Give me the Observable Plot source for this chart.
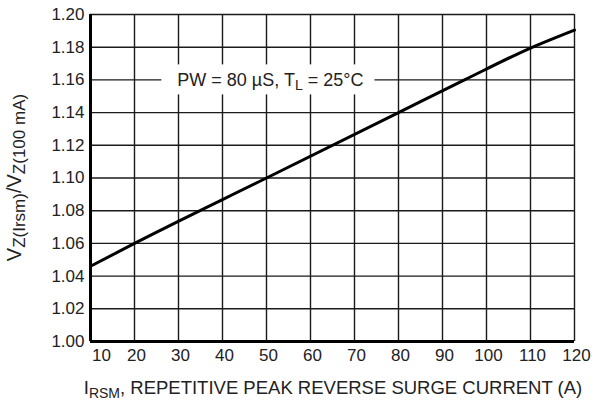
<!DOCTYPE html>
<html><head><meta charset="utf-8">
<script src="https://cdn.jsdelivr.net/npm/d3@7"></script>
<script src="https://cdn.jsdelivr.net/npm/@observablehq/plot@0.6"></script>
<style>
body{margin:0;background:#fff}
svg{font-family:"Liberation Sans",Arial,sans-serif}
</style>
</head><body><div id="chart"></div>
<script>
// Data
const current = [10, 20, 50, 80, 95, 110, 120];
const ratio = [1.046, 1.06, 1.10, 1.14, 1.16, 1.1795, 1.1905];
const xTicks = [10, 20, 30, 40, 50, 60, 70, 80, 90, 100, 110, 120];
const yTicks = [1.00, 1.02, 1.04, 1.06, 1.08, 1.10, 1.12, 1.14, 1.16, 1.18, 1.20];
const noteX = 51;
const noteY = 1.16;

const data = current.map((c, i) => ({c, r: ratio[i]}));

const chart = Plot.plot({
  width: 592, height: 401,
  marginLeft: 90, marginRight: 18, marginTop: 14, marginBottom: 60,
  style: {fontFamily: "Liberation Sans, Arial, sans-serif", fontSize: "17px", color: "#222", background: "#fff", overflow: "visible"},
  x: {domain: [10, 120], ticks: xTicks, tickSize: 0, tickPadding: 7, label: null},
  y: {domain: [1.0, 1.2], ticks: yTicks, tickFormat: d3.format(".2f"), tickSize: 0, tickPadding: 6, label: null},
  marks: [
    Plot.gridX(xTicks, {stroke: "#1a1a1a", strokeOpacity: 1, strokeWidth: 1.4}),
    Plot.gridY(yTicks, {stroke: "#1a1a1a", strokeOpacity: 1, strokeWidth: 1.4}),
    Plot.ruleX([10], {stroke: "#000", strokeWidth: 3}),
    Plot.ruleY([1.0], {stroke: "#000", strokeWidth: 3}),
    Plot.line(data, {x: "c", y: "r", stroke: "#000", strokeWidth: 3, curve: "monotone-x"})
  ]
});
document.getElementById("chart").appendChild(chart);

const sx = chart.scale("x"), sy = chart.scale("y");
const svg = d3.select(chart);
const lineNode = chart.querySelector('[aria-label="line"]');

// Shift x tick labels slightly right, the first one more (as in the reference)
const xTickTexts = chart.querySelectorAll('[aria-label="x-axis tick label"] text');
xTickTexts.forEach((el, i) => {
  const tr = el.getAttribute("transform") || "";
  el.setAttribute("transform", tr + ` translate(${i === 0 ? 11 : 2},0)`);
});

// Annotation with white background
const g = d3.select(chart.insertBefore(document.createElementNS("http://www.w3.org/2000/svg", "g"), lineNode));
const rect = g.append("rect").attr("fill", "#fff");
const t = g.append("text")
  .attr("x", sx.apply(noteX)).attr("y", sy.apply(noteY))
  .attr("dy", "0.35em").attr("text-anchor", "middle")
  .attr("font-size", 18).attr("fill", "#222");
t.append("tspan").text("PW = 80 \u00B5S, T");
t.append("tspan").attr("dy", 4).attr("font-size", 14).text("L");
t.append("tspan").attr("dy", -4).text(" = 25\u00B0C");
const bb = t.node().getBBox();
rect.attr("x", bb.x - 16).attr("width", bb.width + 27)
    .attr("y", sy.apply(noteY) - 15).attr("height", 30);

// X axis label
const xl = svg.append("text")
  .attr("x", (sx.apply(10) + sx.apply(120)) / 2 + 1).attr("y", 394)
  .attr("text-anchor", "middle").attr("font-size", 18.5).attr("fill", "#222");
xl.append("tspan").text("I");
xl.append("tspan").attr("dy", 4).attr("font-size", 14).text("RSM");
xl.append("tspan").attr("dy", -4).text(", REPETITIVE PEAK REVERSE SURGE CURRENT (A)");

// Y axis label
const yc = (sy.apply(1.0) + sy.apply(1.2)) / 2;
const yl = svg.append("text")
  .attr("transform", `translate(21,${yc}) rotate(-90)`)
  .attr("text-anchor", "middle").attr("font-size", 20).attr("fill", "#222");
yl.append("tspan").text("V");
yl.append("tspan").attr("dy", 4).attr("font-size", 17).text("Z(Irsm)");
yl.append("tspan").attr("dy", -4).text("/V");
yl.append("tspan").attr("dy", 4).attr("font-size", 17).text("Z(100 mA)");
</script>
</body></html>
